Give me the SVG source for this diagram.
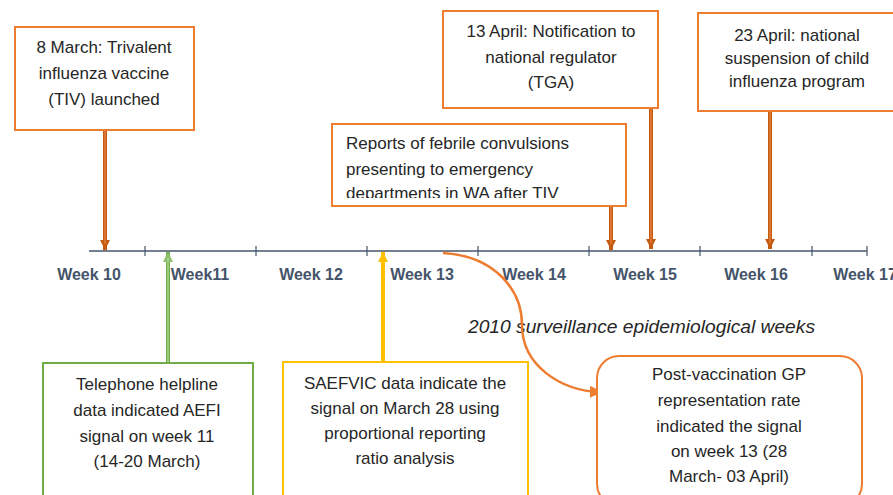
<svg xmlns="http://www.w3.org/2000/svg" width="893" height="495" viewBox="0 0 893 495">
<style>
.box{fill:#fff;stroke:#ed7d31;stroke-width:2}
.gbox{fill:#fff;stroke:#70ad47;stroke-width:2}
.ybox{fill:#fff;stroke:#ffc000;stroke-width:2}
.t{font-family:"Liberation Sans",Arial,sans-serif;font-size:17px;fill:#262626;text-anchor:middle}
.tl{text-anchor:start}
.wk{font-family:"Liberation Sans",Arial,sans-serif;font-size:16px;font-weight:bold;fill:#44546a;text-anchor:middle}
.it{font-family:"Liberation Sans",Arial,sans-serif;font-size:18.5px;font-style:italic;fill:#262626}
.axis{stroke:#44546a;stroke-width:1.5;fill:none}
.tick{stroke:#44546a;stroke-width:1.2}
.brown{stroke:#c55a11;stroke-width:4;fill:none}
.brownc{stroke:#e07b39;stroke-width:1.6;fill:none}
.green{stroke:#70ad47;stroke-width:4;fill:none}
.greenc{stroke:#a9d18e;stroke-width:1.6;fill:none}
.yel{stroke:#ffc000;stroke-width:4;fill:none}
.curve{stroke:#ed7d31;stroke-width:2.5;fill:none}
</style>
<defs>
<marker id="hb" markerUnits="userSpaceOnUse" markerWidth="12" markerHeight="10" refX="10" refY="5" orient="auto">
<path d="M0,0 L10,5 L0,10 z" fill="#c55a11"/>
</marker>
<marker id="hg" markerUnits="userSpaceOnUse" markerWidth="12" markerHeight="10" refX="10" refY="5" orient="auto">
<path d="M0,0 L10,5 L0,10 z" fill="#8cc06a"/>
</marker>
<marker id="hy" markerUnits="userSpaceOnUse" markerWidth="12" markerHeight="10" refX="10" refY="5" orient="auto">
<path d="M0,0 L10,5 L0,10 z" fill="#ffc000"/>
</marker>
<marker id="ho" markerUnits="userSpaceOnUse" markerWidth="14" markerHeight="12" refX="11" refY="6" orient="auto">
<path d="M0,0 L12,6 L0,12 z" fill="#ed7d31"/>
</marker>
<clipPath id="clipR"><rect x="333" y="125" width="292" height="73"/></clipPath>
</defs>

<g id="timeline">
<line class="axis" x1="89" y1="251" x2="867" y2="251"/>
<line class="tick" x1="145" y1="246" x2="145" y2="256"/>
<line class="tick" x1="256" y1="246" x2="256" y2="256"/>
<line class="tick" x1="367" y1="246" x2="367" y2="256"/>
<line class="tick" x1="478" y1="246" x2="478" y2="256"/>
<line class="tick" x1="589" y1="246" x2="589" y2="256"/>
<line class="tick" x1="700" y1="246" x2="700" y2="256"/>
<line class="tick" x1="812" y1="246" x2="812" y2="256"/>
<line class="tick" x1="867" y1="246" x2="867" y2="256"/>
<text class="wk" x="89" y="280">Week 10</text>
<text class="wk" x="200" y="280">Week11</text>
<text class="wk" x="311" y="280">Week 12</text>
<text class="wk" x="422" y="280">Week 13</text>
<text class="wk" x="534" y="280">Week 14</text>
<text class="wk" x="645" y="280">Week 15</text>
<text class="wk" x="756" y="280">Week 16</text>
<text class="wk" x="865" y="280">Week 17</text>
<text class="it" x="468" y="333" textLength="347" lengthAdjust="spacingAndGlyphs">2010 surveillance epidemiological weeks</text>
</g>

<g id="connectors">
<line class="brown" x1="105" y1="130" x2="105" y2="250" marker-end="url(#hb)"/>
<line class="brownc" x1="105" y1="131" x2="105" y2="244"/>
<line class="brown" x1="611" y1="206" x2="611" y2="250" marker-end="url(#hb)"/>
<line class="brownc" x1="611" y1="207" x2="611" y2="244"/>
<line class="brown" x1="651" y1="108" x2="651" y2="249" marker-end="url(#hb)"/>
<line class="brownc" x1="651" y1="109" x2="651" y2="243"/>
<line class="brown" x1="770" y1="111" x2="770" y2="249" marker-end="url(#hb)"/>
<line class="brownc" x1="770" y1="112" x2="770" y2="243"/>
<line class="green" x1="168" y1="363" x2="168" y2="252" marker-end="url(#hg)"/>
<line class="greenc" x1="168" y1="362" x2="168" y2="258"/>
<line class="yel" x1="383" y1="362" x2="383" y2="252" marker-end="url(#hy)"/>
<path class="curve" d="M443,253 C495,256 522,290 522,325 C522,365 560,391 601,392" marker-end="url(#ho)"/>
</g>

<g id="n-tiv">
<rect class="box" x="15" y="27" width="179" height="103"/>
<text class="t" x="104" y="53">8 March: Trivalent</text>
<text class="t" x="104" y="79">influenza vaccine</text>
<text class="t" x="104" y="105">(TIV) launched</text>
</g>

<g id="n-tga">
<rect class="box" x="443" y="11" width="215" height="97"/>
<text class="t" x="551" y="37">13 April: Notification to</text>
<text class="t" x="551" y="63">national regulator</text>
<text class="t" x="551" y="88">(TGA)</text>
</g>

<g id="n-reports">
<rect class="box" x="332" y="124" width="294" height="82"/>
<g clip-path="url(#clipR)">
<text class="t tl" x="346" y="149">Reports of febrile convulsions</text>
<text class="t tl" x="346" y="175">presenting to emergency</text>
<text class="t tl" x="346" y="199">departments in WA after TIV</text>
</g>
</g>

<g id="n-suspension">
<rect class="box" x="698" y="13" width="200" height="98"/>
<text class="t" x="797" y="41">23 April: national</text>
<text class="t" x="797" y="64">suspension of child</text>
<text class="t" x="797" y="87">influenza program</text>
</g>

<g id="n-helpline">
<rect class="gbox" x="43" y="363" width="210" height="140"/>
<text class="t" x="147" y="390">Telephone helpline</text>
<text class="t" x="147" y="416">data indicated AEFI</text>
<text class="t" x="147" y="442">signal on week 11</text>
<text class="t" x="147" y="467">(14-20 March)</text>
</g>

<g id="n-saefvic">
<rect class="ybox" x="283" y="362" width="245" height="140"/>
<text class="t" x="405" y="389">SAEFVIC data indicate the</text>
<text class="t" x="405" y="414">signal on March 28 using</text>
<text class="t" x="405" y="439">proportional reporting</text>
<text class="t" x="405" y="464">ratio analysis</text>
</g>

<g id="n-gp">
<rect class="box" x="597" y="356" width="265" height="150" rx="22" ry="22"/>
<text class="t" x="729" y="380">Post-vaccination GP</text>
<text class="t" x="729" y="406">representation rate</text>
<text class="t" x="729" y="432">indicated the signal</text>
<text class="t" x="729" y="457">on week 13 (28</text>
<text class="t" x="729" y="482">March- 03 April)</text>
</g>
</svg>
